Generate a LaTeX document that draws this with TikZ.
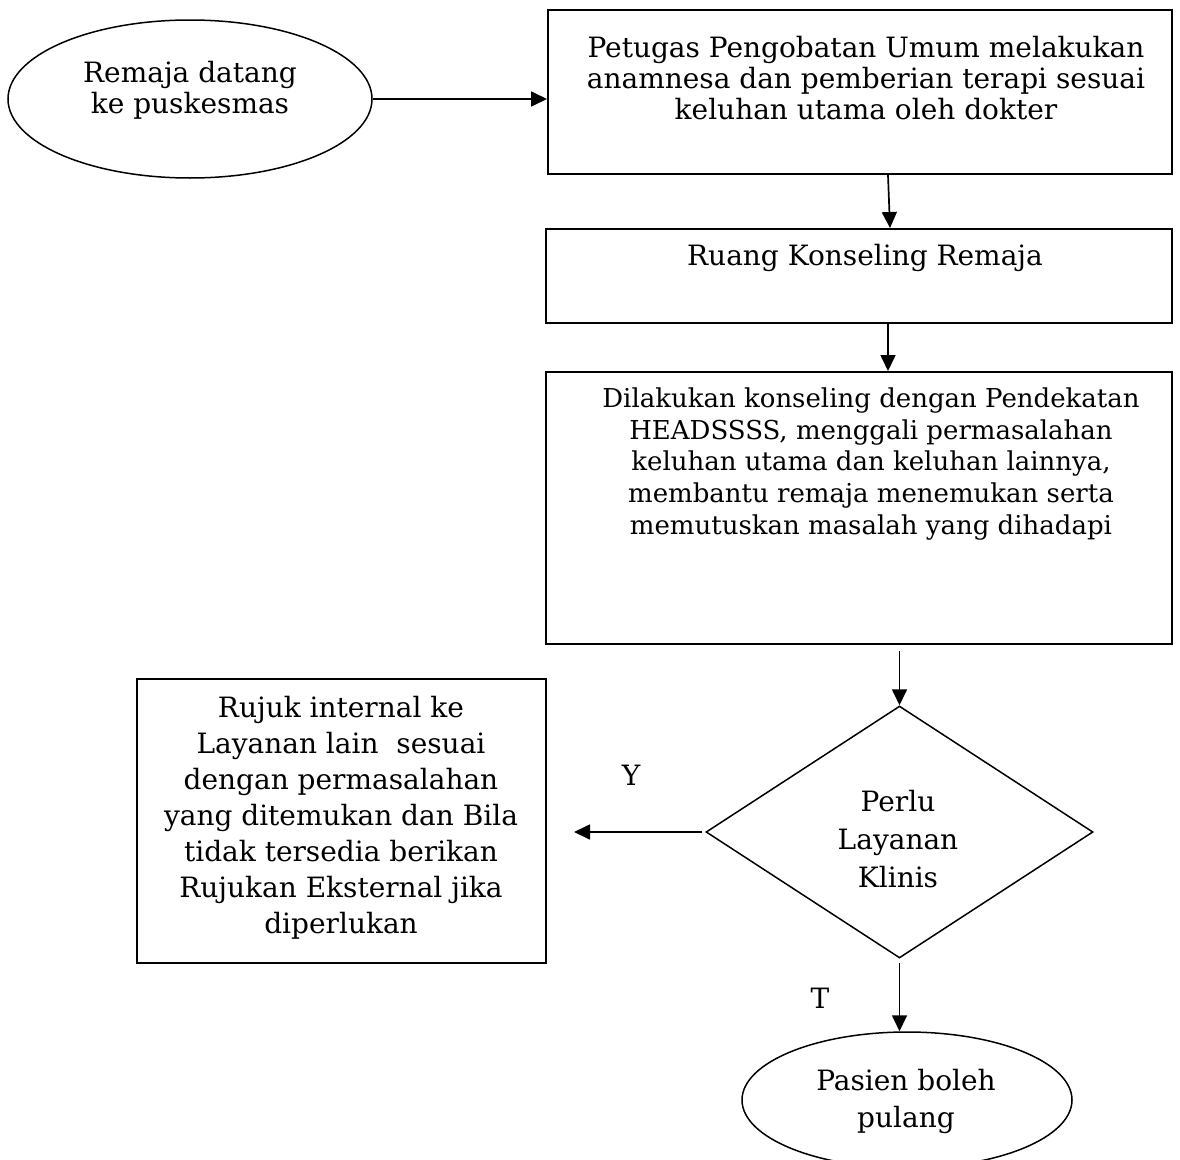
\documentclass[tikz,border=0pt]{standalone}
\usepackage{fontspec}
\setmainfont{DejaVu Serif}
\usetikzlibrary{shapes.geometric,arrows.meta,calc}
\begin{document}
\begin{tikzpicture}[x=1pt,y=-1pt,
  boxnode/.style={draw,line width=2pt,rectangle,inner sep=0pt},
  ovalnode/.style={draw,line width=1.5pt,ellipse,inner sep=0pt},
  decnode/.style={draw,line width=1.5pt,diamond,inner sep=0pt},
  txt/.style={font=\fontsize{28}{31}\selectfont,align=center,inner sep=0pt},
  smalltxt/.style={font=\fontsize{26}{31.7}\selectfont,align=center,inner sep=0pt},
  arr/.style={line width=1.7pt,-{Triangle[length=16pt,width=15pt]}}
]
\useasboundingbox (0,0) rectangle (1180,1159);

% shapes
\node[ovalnode,minimum width=364pt,minimum height=158pt] (e1) at (190,99) {};
\node[boxnode,minimum width=624pt,minimum height=164pt] (b1) at (860,92) {};
\node[boxnode,minimum width=626pt,minimum height=94pt] (b2) at (859,276) {};
\node[boxnode,minimum width=626pt,minimum height=272pt] (b3) at (859,508) {};
\node[decnode,minimum width=387pt,minimum height=252pt] (dia) at (899.5,832) {};
\node[boxnode,minimum width=409pt,minimum height=284pt] (b4) at (341.5,821) {};
\node[ovalnode,minimum width=330pt,minimum height=136pt] (e2) at (907,1100) {};

% texts
\node[txt] (t1) at (190,90) {Remaja datang\\ke puskesmas};
\node[txt] (tb1) at (866,78) {Petugas Pengobatan Umum melakukan\\anamnesa dan pemberian terapi sesuai\\keluhan utama oleh dokter};
\node[txt] (tb2) at (865,258) {Ruang Konseling Remaja};
\node[smalltxt] (tb3) at (871,464) {Dilakukan konseling dengan Pendekatan\\HEADSSSS, menggali permasalahan\\keluhan utama dan keluhan lainnya,\\membantu remaja menemukan serta\\memutuskan masalah yang dihadapi};
\node[txt,font=\fontsize{28}{38}\selectfont] (td) at (898,839) {Perlu\\Layanan\\Klinis};
\node[txt,font=\fontsize{28}{36}\selectfont] (tb4) at (341,818) {Rujuk internal ke\\Layanan lain\ \ sesuai\\dengan permasalahan\\yang ditemukan dan Bila\\tidak tersedia berikan\\Rujukan Eksternal jika\\diperlukan};
\node[txt,font=\fontsize{28}{37}\selectfont] (te2) at (906,1101) {Pasien boleh\\pulang};
\node[txt] (ly) at (631,775) {Y};
\node[txt] (lt) at (820,998) {T};

% connectors
\draw[arr] (e1.east) -- (e1.east -| b1.west);
\draw[arr] ([xshift=28pt]b1.south) -- ([xshift=31pt]b2.north);
\draw[arr] ([xshift=29pt]b2.south) -- ([xshift=29pt]b3.north);
\draw[arr] ([yshift=-6pt]b3.south -| dia.north) -- (dia.north);
\draw[arr] ([xshift=-3pt]dia.west) -- ($(dia.west -| b4.east)+(27,0)$);
\draw[arr] ([yshift=-4pt]dia.south) -- (dia.south |- e2.north);
\end{tikzpicture}
\end{document}
